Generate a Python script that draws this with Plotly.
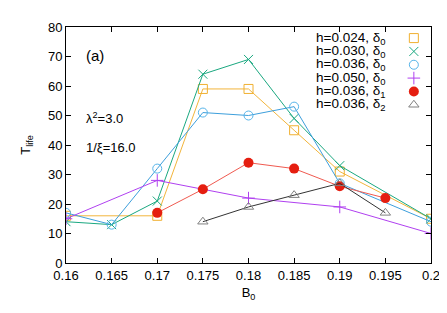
import plotly.graph_objects as go

# Data
x_024 = [0.16, 0.17, 0.175, 0.18, 0.185, 0.19, 0.2]
y_024 = [16, 16, 59, 59, 45, 31, 15]
x_030 = [0.16, 0.165, 0.17, 0.175, 0.18, 0.185, 0.19, 0.2]
y_030 = [14, 13, 21, 64, 69, 49, 33, 15]
x_036 = [0.16, 0.165, 0.17, 0.175, 0.18, 0.185, 0.19, 0.2]
y_036 = [17, 13, 32, 51, 50, 53, 27, 14]
x_050 = [0.16, 0.17, 0.18, 0.19, 0.2]
y_050 = [15, 28, 22, 19, 10]
x_d1 = [0.17, 0.175, 0.18, 0.185, 0.19, 0.195]
y_d1 = [17, 25, 34, 32, 26, 22]
x_d2 = [0.175, 0.18, 0.185, 0.19, 0.195]
y_d2 = [14, 19, 23, 27, 17]

legend_labels = ["h=0.024, δ<sub>0</sub>", "h=0.030, δ<sub>0</sub>", "h=0.036, δ<sub>0</sub>",
                 "h=0.050, δ<sub>0</sub>", "h=0.036, δ<sub>1</sub>", "h=0.036, δ<sub>2</sub>"]
x_ticks = [0.16, 0.165, 0.17, 0.175, 0.18, 0.185, 0.19, 0.195, 0.2]
x_ticklabels = ["0.16", "0.165", "0.17", "0.175", "0.18", "0.185", "0.19", "0.195", "0.2"]
y_ticks = [0, 10, 20, 30, 40, 50, 60, 70, 80]

series = [
    (x_024, y_024, "#f0b030", "#f2b53c", "square-open", 9, 1),
    (x_030, y_030, "#1aa880", "#1aa880", "x-thin-open", 9, 1),
    (x_036, y_036, "#56b4e9", "#3d9fdc", "circle-open", 9, 1),
    (x_050, y_050, "#b040f0", "#b040f0", "cross-thin-open", 9, 1),
    (x_d1, y_d1, "#e51e10", "#f05a50", "circle", 10, 0),
    (x_d2, y_d2, "#808080", "#333333", "triangle-up-open", 9, 1),
]

fig = go.Figure()
for xs, ys, mc, lc, sym, sz, mlw in series:
    fig.add_trace(go.Scatter(
        x=xs, y=ys, mode="lines+markers",
        line=dict(color=lc, width=1),
        marker=dict(symbol=sym, size=sz, color=mc, line=dict(color=mc, width=mlw)),
        showlegend=False))

# legend (gnuplot style: text then symbol)
leg_y0 = 0.953
leg_dy = 0.0565
for i, (lab, s) in enumerate(zip(legend_labels, series)):
    yy = leg_y0 - i * leg_dy
    fig.add_trace(go.Scatter(
        x=[0.953], y=[yy], mode="markers", xaxis="x2", yaxis="y2",
        marker=dict(symbol=s[4], size=s[5], color=s[2], line=dict(color=s[2], width=s[6])),
        showlegend=False, hoverinfo="skip"))
    fig.add_annotation(x=0.879, y=yy, xref="x2", yref="y2", text=lab, showarrow=False,
                       xanchor="right", yanchor="middle",
                       font=dict(size=13.5, color="black"))

fig.add_annotation(x=0.05, y=0.88, xref="x2", yref="y2", text="(a)", showarrow=False,
                   xanchor="left", yanchor="middle", font=dict(size=15, color="black"))
fig.add_annotation(x=0.05, y=0.615, xref="x2", yref="y2", text="λ<sup>2</sup>=3.0", showarrow=False,
                   xanchor="left", yanchor="middle", font=dict(size=13, color="black"))
fig.add_annotation(x=0.05, y=0.49, xref="x2", yref="y2", text="1/ξ=16.0", showarrow=False,
                   xanchor="left", yanchor="middle", font=dict(size=13, color="black"))

axis_common = dict(showgrid=False, zeroline=False, showline=True, linecolor="black",
                   linewidth=1, mirror="ticks", ticks="inside", ticklen=5,
                   tickcolor="black", tickfont=dict(size=13, color="black"))

fig.update_layout(
    width=447, height=313,
    margin=dict(l=58, r=24, t=14, b=58),
    paper_bgcolor="white", plot_bgcolor="white",
    font=dict(family="Liberation Sans, Arial, sans-serif", size=13, color="black"),
    xaxis=dict(range=[0.16, 0.2], tickvals=x_ticks, ticktext=x_ticklabels,
               title=dict(text="B<sub>0</sub>", standoff=6, font=dict(size=13)), **axis_common),
    yaxis=dict(range=[0, 80], tickvals=y_ticks,
               title=dict(text="T<sub>life</sub>", standoff=14, font=dict(size=13)), **axis_common),
    xaxis2=dict(range=[0, 1], overlaying="x", visible=False, anchor="y2"),
    yaxis2=dict(range=[0, 1], overlaying="y", visible=False, anchor="x2"),
    showlegend=False,
)

fig.write_html("out.html")
